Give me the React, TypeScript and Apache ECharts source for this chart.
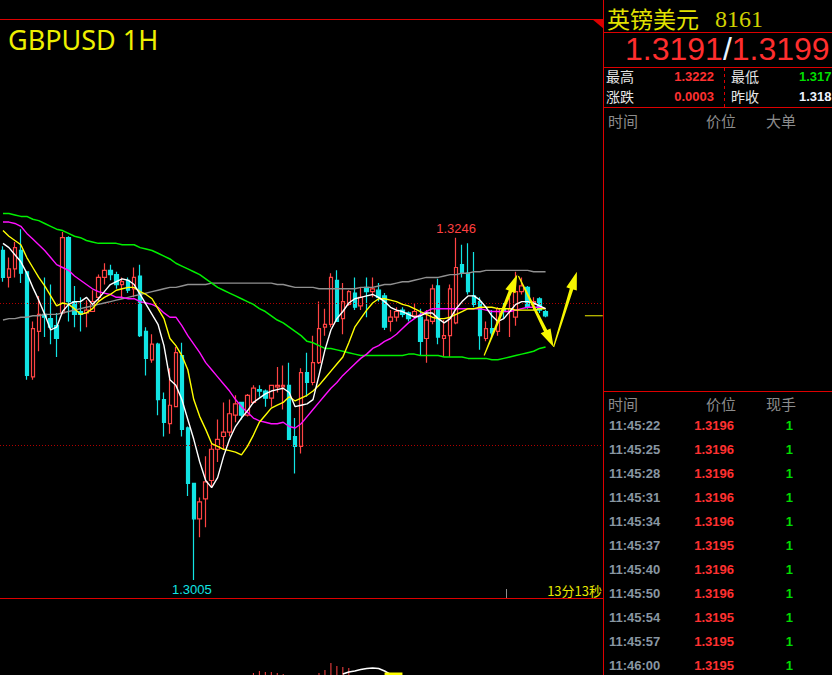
import React, { useEffect, useRef } from "react";
import * as echarts from "echarts";

// ---------- candle data (1H GBPUSD) ----------
const candleOpen = [
  1.3237, 1.3218, 1.3224, 1.3237, 1.3222, 1.3148, 1.3180, 1.3192, 1.3189, 1.3184,
  1.3193, 1.3246, 1.3201, 1.3194, 1.3193, 1.3194, 1.3204, 1.3218, 1.3223, 1.3220,
  1.3213, 1.3216, 1.3210, 1.3219, 1.3180, 1.3160, 1.3171, 1.3132, 1.3115, 1.3127,
  1.3163, 1.3112, 1.3073, 1.3048, 1.3062, 1.3075, 1.3097, 1.3106, 1.3109, 1.3121,
  1.3130, 1.3121, 1.3130, 1.3139, 1.3138, 1.3133, 1.3141, 1.3141, 1.3142, 1.3106,
  1.3099, 1.3151, 1.3144, 1.3158, 1.3183, 1.3185, 1.3216, 1.3189, 1.3199, 1.3207,
  1.3198, 1.3211, 1.3208, 1.3209, 1.3205, 1.3187, 1.3190, 1.3195, 1.3193, 1.3191,
  1.3190, 1.3175, 1.3187, 1.3212, 1.3175, 1.3177, 1.3186, 1.3227, 1.3221, 1.3205,
  1.3201, 1.3175, 1.3182, 1.3180, 1.3196, 1.3194, 1.3190, 1.3208, 1.3211, 1.3199,
  1.3203, 1.3194,
];
const candleClose = [
  1.3218, 1.3224, 1.3239, 1.3221, 1.3149, 1.3182, 1.3192, 1.3190, 1.3183, 1.3175,
  1.3246, 1.3201, 1.3192, 1.3192, 1.3195, 1.3201, 1.3218, 1.3223, 1.3220, 1.3213,
  1.3215, 1.3209, 1.3218, 1.3177, 1.3161, 1.3171, 1.3132, 1.3116, 1.3128, 1.3165,
  1.3111, 1.3073, 1.3048, 1.3060, 1.3074, 1.3097, 1.3104, 1.3109, 1.3122, 1.3129,
  1.3121, 1.3135, 1.3140, 1.3138, 1.3133, 1.3142, 1.3142, 1.3142, 1.3104, 1.3099,
  1.3151, 1.3144, 1.3158, 1.3182, 1.3185, 1.3218, 1.3187, 1.3201, 1.3208, 1.3197,
  1.3204, 1.3208, 1.3210, 1.3204, 1.3183, 1.3190, 1.3194, 1.3192, 1.3189, 1.3194,
  1.3173, 1.3188, 1.3210, 1.3176, 1.3177, 1.3210, 1.3225, 1.3221, 1.3208, 1.3199,
  1.3177, 1.3182, 1.3179, 1.3196, 1.3194, 1.3196, 1.3208, 1.3212, 1.3197, 1.3201,
  1.3195, 1.3191,
];
const candleLow = [
  1.3215, 1.3211, 1.3218, 1.3214, 1.3146, 1.3146, 1.3166, 1.3176, 1.3171, 1.3162,
  1.3192, 1.3187, 1.3183, 1.3180, 1.3183, 1.3194, 1.3201, 1.3213, 1.3216, 1.3210,
  1.3203, 1.3207, 1.3204, 1.3176, 1.3149, 1.3158, 1.3121, 1.3106, 1.3108, 1.3127,
  1.3106, 1.3064, 1.3005, 1.3035, 1.3042, 1.3070, 1.3088, 1.3097, 1.3106, 1.3116,
  1.3118, 1.3120, 1.3129, 1.3134, 1.3127, 1.3127, 1.3137, 1.3125, 1.3104, 1.3080,
  1.3094, 1.3134, 1.3142, 1.3157, 1.3177, 1.3183, 1.3187, 1.3178, 1.3198, 1.3195,
  1.3195, 1.3190, 1.3204, 1.3201, 1.3181, 1.3180, 1.3187, 1.3190, 1.3187, 1.3189,
  1.3163, 1.3158, 1.3185, 1.3171, 1.3162, 1.3162, 1.3185, 1.3218, 1.3206, 1.3197,
  1.3167, 1.3173, 1.3175, 1.3177, 1.3189, 1.3176, 1.3184, 1.3206, 1.3196, 1.3195,
  1.3193, 1.3190,
];
const candleHigh = [
  1.3240, 1.3232, 1.3243, 1.3252, 1.3222, 1.3187, 1.3205, 1.3218, 1.3213, 1.3193,
  1.3250, 1.3247, 1.3212, 1.3204, 1.3202, 1.3209, 1.3220, 1.3228, 1.3227, 1.3222,
  1.3218, 1.3218, 1.3225, 1.3227, 1.3183, 1.3178, 1.3172, 1.3137, 1.3154, 1.3169,
  1.3172, 1.3113, 1.3073, 1.3063, 1.3092, 1.3101, 1.3118, 1.3130, 1.3132, 1.3135,
  1.3130, 1.3136, 1.3142, 1.3142, 1.3139, 1.3142, 1.3155, 1.3156, 1.3158, 1.3119,
  1.3154, 1.3165, 1.3177, 1.3201, 1.3196, 1.3221, 1.3223, 1.3214, 1.3209, 1.3218,
  1.3211, 1.3218, 1.3218, 1.3214, 1.3207, 1.3195, 1.3197, 1.3197, 1.3194, 1.3200,
  1.3196, 1.3195, 1.3213, 1.3217, 1.3188, 1.3213, 1.3246, 1.3241, 1.3242, 1.3236,
  1.3204, 1.3187, 1.3195, 1.3197, 1.3200, 1.3204, 1.3222, 1.3218, 1.3212, 1.3204,
  1.3204, 1.3195,
];

// ---------- moving-average lines ----------
const maWhite = [
  1.3242, 1.3239, 1.3234, 1.3229, 1.3221, 1.3211, 1.3202, 1.3192, 1.3181, 1.3183,
  1.3194, 1.3199, 1.3201, 1.3201, 1.3204, 1.3199, 1.3203, 1.3208, 1.3213, 1.3215,
  1.3217, 1.3216, 1.3213, 1.3206, 1.3199, 1.3192, 1.3185, 1.3170, 1.3146, 1.3142,
  1.3132, 1.3118, 1.3104, 1.3088, 1.3075, 1.3070, 1.3077, 1.3092, 1.3104, 1.3113,
  1.3119, 1.3124, 1.3130, 1.3133, 1.3136, 1.3138, 1.3139, 1.3140, 1.3137, 1.3127,
  1.3128, 1.3129, 1.3132, 1.3149, 1.3167, 1.3181, 1.3189, 1.3194, 1.3200, 1.3203,
  1.3204, 1.3205, 1.3206, 1.3204, 1.3201, 1.3197, 1.3195, 1.3194, 1.3192, 1.3190,
  1.3191, 1.3193, 1.3193, 1.3189, 1.3186, 1.3189, 1.3196, 1.3201, 1.3205, 1.3205,
  1.3202, 1.3197, 1.3191, 1.3187, 1.3189, 1.3194, 1.3199, 1.3201, 1.3201, 1.3200,
  1.3198, 1.3196,
];
const maYellow = [
  1.3251, 1.3247, 1.3244, 1.3241, 1.3232, 1.3225, 1.3218, 1.3212, 1.3205, 1.3198,
  1.3200, 1.3199, 1.3196, 1.3192, 1.3193, 1.3196, 1.3201, 1.3204, 1.3206, 1.3209,
  1.3210, 1.3211, 1.3211, 1.3208, 1.3206, 1.3203, 1.3196, 1.3189, 1.3175, 1.3170,
  1.3163, 1.3153, 1.3132, 1.3120, 1.3111, 1.3101, 1.3099, 1.3097, 1.3096, 1.3095,
  1.3093, 1.3099, 1.3107, 1.3116, 1.3121, 1.3126, 1.3128, 1.3130, 1.3134, 1.3131,
  1.3133, 1.3135, 1.3138, 1.3142, 1.3147, 1.3152, 1.3157, 1.3162, 1.3172, 1.3183,
  1.3189, 1.3195, 1.3200, 1.3203, 1.3203, 1.3202, 1.3201, 1.3199, 1.3198, 1.3196,
  1.3194, 1.3192, 1.3190, 1.3189, 1.3189, 1.3190, 1.3192, 1.3194, 1.3196, 1.3196,
  1.3197, 1.3197, 1.3197, 1.3196, 1.3196, 1.3196, 1.3195, 1.3195, 1.3195, 1.3195,
  1.3196, 1.3196,
];
const maMagenta = [
  1.3257, 1.3257, 1.3256, 1.3254, 1.3249, 1.3245, 1.3241, 1.3237, 1.3232, 1.3227,
  1.3225, 1.3223, 1.3219, 1.3216, 1.3213, 1.3210, 1.3208, 1.3207, 1.3206, 1.3204,
  1.3204, 1.3203, 1.3203, 1.3201, 1.3200, 1.3199, 1.3197, 1.3193, 1.3190, 1.3190,
  1.3184, 1.3177, 1.3171, 1.3165, 1.3158, 1.3153, 1.3148, 1.3143, 1.3138, 1.3132,
  1.3127, 1.3123, 1.3119, 1.3117, 1.3116, 1.3115, 1.3115, 1.3116, 1.3113, 1.3112,
  1.3115, 1.3120, 1.3125, 1.3130, 1.3135, 1.3140, 1.3144, 1.3149, 1.3153, 1.3157,
  1.3161, 1.3164, 1.3168, 1.3170, 1.3173, 1.3175, 1.3178, 1.3182, 1.3186, 1.3189,
  1.3192, 1.3194, 1.3196, 1.3196, 1.3196, 1.3196, 1.3196, 1.3196, 1.3196, 1.3196,
  1.3196, 1.3195, 1.3194, 1.3194, 1.3194, 1.3194, 1.3195, 1.3196, 1.3197, 1.3197,
  1.3197, 1.3196,
];
const maGreen = [
  1.3263, 1.3263, 1.3262, 1.3261, 1.3261, 1.3259, 1.3258, 1.3256, 1.3254, 1.3252,
  1.3251, 1.3249, 1.3247, 1.3246, 1.3244, 1.3243, 1.3242, 1.3242, 1.3242, 1.3242,
  1.3241, 1.3241, 1.3241, 1.3239, 1.3238, 1.3237, 1.3235, 1.3233, 1.3231, 1.3228,
  1.3226, 1.3224, 1.3222, 1.3220, 1.3217, 1.3214, 1.3211, 1.3209, 1.3207, 1.3205,
  1.3203, 1.3201, 1.3199, 1.3196, 1.3194, 1.3191, 1.3188, 1.3186, 1.3183, 1.3180,
  1.3177, 1.3173, 1.3172, 1.3170, 1.3168, 1.3168, 1.3167, 1.3166, 1.3165, 1.3164,
  1.3163, 1.3163, 1.3163, 1.3163, 1.3163, 1.3163, 1.3163, 1.3163, 1.3164, 1.3164,
  1.3163, 1.3163, 1.3163, 1.3163, 1.3162, 1.3162, 1.3162, 1.3162, 1.3161, 1.3161,
  1.3161, 1.3161, 1.3160, 1.3160, 1.3161, 1.3162, 1.3163, 1.3164, 1.3165, 1.3166,
  1.3168, 1.3169,
];
const maGray = [
  1.3188, 1.3189, 1.3189, 1.3190, 1.3190, 1.3191, 1.3191, 1.3192, 1.3192, 1.3192,
  1.3193, 1.3194, 1.3195, 1.3196, 1.3197, 1.3198, 1.3199, 1.3200, 1.3201, 1.3202,
  1.3203, 1.3204, 1.3205, 1.3206, 1.3207, 1.3208, 1.3209, 1.3210, 1.3211, 1.3211,
  1.3212, 1.3213, 1.3213, 1.3213, 1.3213, 1.3214, 1.3214, 1.3214, 1.3214, 1.3214,
  1.3214, 1.3214, 1.3214, 1.3214, 1.3214, 1.3214, 1.3213, 1.3213, 1.3212, 1.3211,
  1.3211, 1.3211, 1.3211, 1.3210, 1.3210, 1.3210, 1.3210, 1.3210, 1.3210, 1.3210,
  1.3211, 1.3211, 1.3211, 1.3212, 1.3213, 1.3213, 1.3214, 1.3215, 1.3215, 1.3216,
  1.3217, 1.3218, 1.3218, 1.3218, 1.3219, 1.3220, 1.3220, 1.3221, 1.3221, 1.3222,
  1.3222, 1.3223, 1.3223, 1.3223, 1.3223, 1.3223, 1.3223, 1.3223, 1.3223, 1.3222,
  1.3222, 1.3222,
];

// ---------- lower indicator panel (only its top edge is visible) ----------
const subBars = [
  [42, 2], [43, 4], [44, 3], [45, 3], [46, 2], [47, 1],
  [53, 2], [54, 5], [55, 12], [56, 9], [57, 8], [58, 7],
];
const subWhite = [[57, 1], [58, 3], [59, 4], [60, 5.5], [61, 6.5], [62, 7], [63, 6.5], [64, 4], [65, 0.5]];
const subYellow = [[63.6, 1], [64, 1], [65, 1], [66, 1], [66.5, 1]];

// ---------- levels / labels ----------
const gridLevels = [1.31, 1.32];
const lastPrice = 1.3191;
const highLabel = { index: 76, value: "1.3246" };
const lowLabel = { index: 32, value: "1.3005" };
const arrowPaths = [
  { from: [80.7, 1.3163], to: [86.25, 1.3220] },
  { from: [86.45, 1.3219], to: [92.35, 1.3169] },
  { from: [92.35, 1.3169], to: [96.25, 1.3222] },
];
const categoryCount = 101;
const categories = Array.from({ length: categoryCount }, (_, i) => "K" + i);

// ---------- quote panel ----------
const quoteName = "英镑美元";
const quoteCode = "8161";
const bidPrice = "1.3191";
const askPrice = "1.3199";
const dayHigh = "1.3222";
const dayLow = "1.317";
const dayChange = "0.0003";
const prevClose = "1.318";
const countdown = "13分13秒";
const tradeTimes = ["11:45:22", "11:45:25", "11:45:28", "11:45:31", "11:45:34", "11:45:37", "11:45:40", "11:45:50", "11:45:54", "11:45:57", "11:46:00"];
const tradePrices = ["1.3196", "1.3196", "1.3196", "1.3196", "1.3196", "1.3195", "1.3196", "1.3196", "1.3195", "1.3195", "1.3195"];
const tradeVolumes = ["1", "1", "1", "1", "1", "1", "1", "1", "1", "1", "1"];

const RED = "#dd0000";
const UP = "#ff4444";
const DOWN = "#12e4e4";
const CJK = '"Noto Sans CJK SC", sans-serif';
const SANS = '"Liberation Sans", Arial, sans-serif';

function txt(text: string, x: number, y: number, fill: string, font: string, align = "left", extra: any = {}) {
  return {
    type: "text",
    x,
    y,
    z: 100,
    silent: true,
    style: {
      text,
      fill,
      font,
      align,
      verticalAlign: "middle",
      textAlign: align,
      textVerticalAlign: "middle",
      ...extra,
    },
  };
}
function ln(x1: number, y1: number, x2: number, y2: number, stroke: string, extra: any = {}) {
  return {
    type: "line",
    z: 90,
    silent: true,
    shape: { x1, y1, x2, y2 },
    style: { stroke, lineWidth: 1, ...extra },
  };
}
function measure(text: string, font: string): number {
  const c = document.createElement("canvas").getContext("2d");
  if (!c) return text.length * 16;
  c.font = font;
  return c.measureText(text).width;
}

export default function App() {
  const ref = useRef<HTMLDivElement>(null);
  useEffect(() => {
    const chart = echarts.init(ref.current!, null, { renderer: "svg", width: 832, height: 675 });
    const candles = candleOpen.map((o, i) => [o, candleClose[i], candleLow[i], candleHigh[i]]);
    const maLine = (name: string, data: number[], color: string, width: number) => ({
      name,
      type: "line",
      xAxisIndex: 0,
      yAxisIndex: 0,
      data,
      symbol: "none",
      showSymbol: false,
      smooth: false,
      z: 5,
      lineStyle: { color, width },
      silent: true,
    });
    chart.setOption({
      animation: false,
      backgroundColor: "#000000",
      grid: [
        { left: -3.8, top: 19, width: 606, height: 582.2 },
        { left: -3.8, top: 600, width: 606, height: 75 },
      ],
      xAxis: [
        { type: "category", gridIndex: 0, data: categories, boundaryGap: true, show: false },
        { type: "category", gridIndex: 1, data: categories, boundaryGap: true, show: false },
      ],
      yAxis: [
        { type: "value", gridIndex: 0, min: 1.299, max: 1.34, show: false, splitLine: { show: false } },
        { type: "value", gridIndex: 1, min: 0, max: 75, show: false, splitLine: { show: false } },
      ],
      series: [
        {
          name: "K",
          type: "candlestick",
          xAxisIndex: 0,
          yAxisIndex: 0,
          data: candles,
          barWidth: 4,
          z: 3,
          silent: true,
          itemStyle: {
            color: "#000000",
            color0: DOWN,
            borderColor: UP,
            borderColor0: DOWN,
            borderWidth: 1.2,
          },
          markLine: {
            silent: true,
            symbol: "none",
            label: { show: false },
            lineStyle: { color: "#b00000", type: [1, 2], width: 1 },
            data: gridLevels.map((v) => ({ yAxis: v })),
          },
        },
        maLine("MA-gray", maGray, "#909090", 1.4),
        maLine("MA-green", maGreen, "#00f000", 1.5),
        maLine("MA-magenta", maMagenta, "#ff10ff", 1.4),
        maLine("MA-yellow", maYellow, "#ffff00", 1.4),
        maLine("MA-white", maWhite, "#ffffff", 1.4),
        {
          type: "bar",
          xAxisIndex: 1,
          yAxisIndex: 1,
          data: subBars,
          barWidth: 1,
          itemStyle: { color: UP },
          silent: true,
        },
        {
          type: "line",
          xAxisIndex: 1,
          yAxisIndex: 1,
          data: subWhite,
          symbol: "none",
          lineStyle: { color: "#ffffff", width: 1.5 },
          silent: true,
        },
        {
          type: "line",
          xAxisIndex: 1,
          yAxisIndex: 1,
          data: subYellow,
          symbol: "none",
          lineStyle: { color: "#ffff00", width: 3 },
          silent: true,
        },
      ],
    });

    const px = (idx: number, price: number) => {
      const a = chart.convertToPixel({ gridIndex: 0 }, [0, price]) as number[];
      const b = chart.convertToPixel({ gridIndex: 0 }, [1, price]) as number[];
      return [a[0] + (b[0] - a[0]) * idx, a[1]];
    };

    const arrows = arrowPaths.map((a) => {
      const T = px(a.from[0], a.from[1]);
      const P = px(a.to[0], a.to[1]);
      const dx = P[0] - T[0];
      const dy = P[1] - T[1];
      const L = Math.hypot(dx, dy);
      const ux = dx / L;
      const uy = dy / L;
      const nx = -uy;
      const ny = ux;
      const hl = 18;
      const hw = 5.5;
      const sw = 3.6;
      const tw = 1.2;
      const B = [P[0] - ux * hl, P[1] - uy * hl];
      const pts = [
        [T[0] + nx * tw / 2, T[1] + ny * tw / 2],
        [B[0] + nx * sw / 2, B[1] + ny * sw / 2],
        [B[0] + nx * hw, B[1] + ny * hw],
        [P[0], P[1]],
        [B[0] - nx * hw, B[1] - ny * hw],
        [B[0] - nx * sw / 2, B[1] - ny * sw / 2],
        [T[0] - nx * tw / 2, T[1] - ny * tw / 2],
      ];
      return { type: "polygon", z: 120, silent: true, shape: { points: pts }, style: { fill: "#f6f600" } };
    });

    const hi = px(highLabel.index, candleHigh[highLabel.index]);
    const lo = px(lowLabel.index, candleLow[lowLabel.index]);
    const lastY = px(0, lastPrice)[1];
    const lastX1 = px(97.6, lastPrice)[0];
    const lastX2 = px(100.6, lastPrice)[0];

    const bigFont = "32px " + SANS;
    const bidW = measure(bidPrice, bigFont);
    const slashW = measure("/", bigFont);
    const bigX = 625;
    const bigY = 49;

    const elements: any[] = [
      // frame lines
      ln(0, 19.5, 603, 19.5, RED),
      ln(0, 598.5, 603, 598.5, RED),
      ln(603.5, 0, 603.5, 675, RED),
      { type: "polygon", z: 95, silent: true, shape: { points: [[592, 19], [604, 19], [604, 29]] }, style: { fill: RED } },
      ln(603, 32.5, 832, 32.5, RED),
      ln(603, 67.5, 832, 67.5, RED),
      ln(603, 107.5, 832, 107.5, RED),
      ln(603, 391.5, 832, 391.5, RED),
      ln(724.5, 68, 724.5, 107, RED, { lineDash: [3, 3] }),
      ln(506.5, 589, 506.5, 598, "#909090"),
      // title
      txt("GBPUSD 1H", 8, 39.5, "#eef000", '27px "Noto Sans", sans-serif'),
      // high/low labels
      txt(highLabel.value, hi[0], hi[1] - 9, "#ff4040", "13px " + SANS, "center"),
      txt(lowLabel.value, lo[0] - 2, lo[1] + 9.5, DOWN, "13px " + SANS, "center"),
      txt(countdown, 602, 590, "#e8e800", "13px " + CJK, "right"),
      ln(lastX1, lastY, lastX2, lastY, "#f0f000"),
      // quote panel
      txt(quoteName, 607, 18, "#e2e200", "23px " + CJK),
      txt(quoteCode, 715, 19, "#d2d200", '24px "Liberation Serif", serif'),
      txt(bidPrice, bigX, bigY, "#ff2e2e", bigFont),
      txt("/", bigX + bidW, bigY, "#e8f4ff", bigFont),
      txt(askPrice, bigX + bidW + slashW, bigY, "#ff2e2e", bigFont),
      txt("最高", 606, 76, "#e6e6e6", "14px " + CJK),
      txt(dayHigh, 714, 76.5, "#ff3030", "bold 13px " + SANS, "right"),
      txt("最低", 731, 76, "#e6e6e6", "14px " + CJK),
      txt(dayLow, 799, 76.5, "#00dd00", "bold 13px " + SANS),
      txt("涨跌", 606, 95.5, "#e6e6e6", "14px " + CJK),
      txt(dayChange, 714, 96, "#ff3030", "bold 13px " + SANS, "right"),
      txt("昨收", 731, 95.5, "#e6e6e6", "14px " + CJK),
      txt(prevClose, 799, 96, "#eef4ff", "bold 13px " + SANS),
      txt("时间", 608, 120, "#8c8c8c", "15px " + CJK),
      txt("价位", 706, 120, "#8c8c8c", "15px " + CJK),
      txt("大单", 766, 120, "#8c8c8c", "15px " + CJK),
      txt("时间", 608, 403.5, "#8c8c8c", "15px " + CJK),
      txt("价位", 706, 403.5, "#8c8c8c", "15px " + CJK),
      txt("现手", 766, 403.5, "#8c8c8c", "15px " + CJK),
    ];
    tradeTimes.forEach((t, i) => {
      const y = 425.5 + 24 * i;
      elements.push(txt(t, 609, y, "#8896a2", "bold 13px " + SANS));
      elements.push(txt(tradePrices[i], 734, y, "#ff3030", "bold 13px " + SANS, "right"));
      elements.push(txt(tradeVolumes[i], 793, y, "#00dd00", "bold 13px " + SANS, "right"));
    });
    elements.push(...arrows);

    chart.setOption({ graphic: { elements } });
    return () => chart.dispose();
  }, []);
  return (
    <div
      ref={ref}
      style={{ position: "fixed", left: 0, top: 0, width: 832, height: 675, background: "#000" }}
    />
  );
}
